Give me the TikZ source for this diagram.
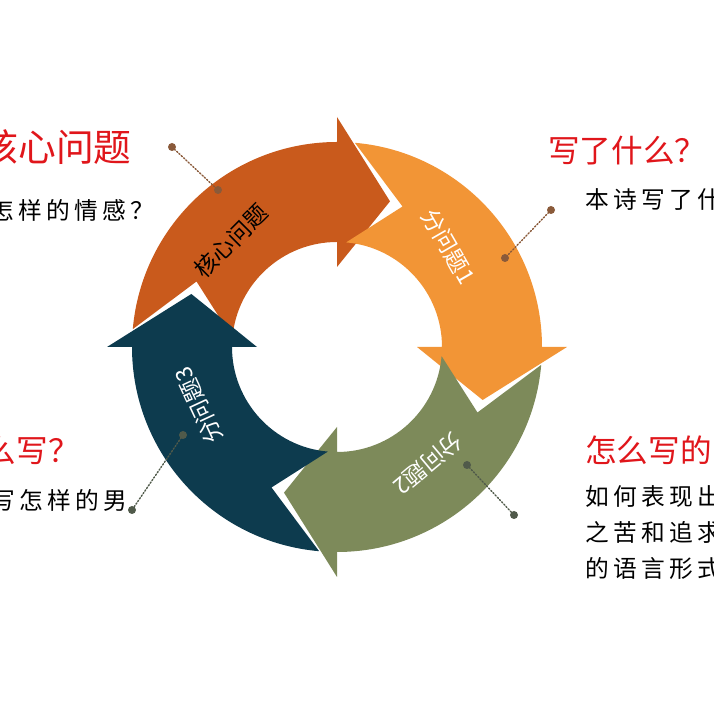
\documentclass[tikz,border=0pt]{standalone}
\usepackage{fontspec}
\setmainfont{Noto Sans CJK SC}
\newfontfamily\spacedfont[LetterSpace=18]{Noto Sans CJK SC}
\definecolor{coreRed}{HTML}{C95A1C}
\definecolor{subOrange}{HTML}{F29536}
\definecolor{subOlive}{HTML}{7D8A5A}
\definecolor{subTeal}{HTML}{0D3B4E}
\definecolor{titleRed}{HTML}{E0161B}
\definecolor{dotBrown}{HTML}{8A5A3A}
\definecolor{dotGrey}{HTML}{505A4A}
% one ring arrow: head base angle, colour
\newcommand\ringarrow[2]{%
  \fill[#2] (#1:230) -- (#1-20:155) -- (#1:80) -- (#1:105)
    arc[start angle=#1, end angle=#1+85, radius=105] -- (#1+65:155) -- (#1+85:205)
    arc[start angle=#1+85, end angle=#1, radius=205] -- cycle;}
\tikzset{
  title/.style={text=titleRed, font=\fontsize{18}{20}\selectfont, inner sep=0pt},
  body/.style={text=black, font=\spacedfont\fontsize{13.5}{20.5}\selectfont, inner sep=0pt, align=left},
  inlabel/.style={font=\fontsize{13}{14}\selectfont, inner sep=0pt},
  pin/.style={densely dotted, thick}
}
\begin{document}
\begin{tikzpicture}[x=0.02cm, y=0.02cm, line cap=round]
  %%%%%%%%%%%%%%%%%%%%%%%%%%%%%%%%%
  \useasboundingbox (0,0) rectangle (714,713);
  \clip (0,0) rectangle (714,713);
  %%%%%%%%%%%%%%%%%%%%%%%%%%%%%%%%%
  \begin{scope}[shift={(337,366)}]
    \ringarrow{90}{coreRed}
    \ringarrow{0}{subOrange}
    \ringarrow{-90}{subOlive}
    \ringarrow{180}{subTeal}
    \node[inlabel, rotate=45] (core) at (135:150) {核心问题};
    \node[inlabel, text=white, rotate=-60] (sub1) at (42:150) {分问题1};
    \node[inlabel, text=white, rotate=-140] (sub2) at (-52:148) {分问题2};
    \node[inlabel, text=white, rotate=115] (sub3) at (-157:150) {分问题3};
  \end{scope}
  %%%%%%%%%%%%%%%%%%%%%%%%%%%%%%%%%
  \node[title, anchor=east, font=\fontsize{21.5}{24}\selectfont] (t0) at (132,566) {核心问题};
  \node[body, anchor=east] (b0) at (155,503) {怎样的情感？};
  \node[title, anchor=west] (t1) at (548,562) {写了什么？};
  \node[body, anchor=west] (b1) at (585,513) {本诗写了什么};
  \node[title, anchor=east] (t3) at (80,263) {怎么写？};
  \node[body, anchor=east] (b3) at (128,213) {写怎样的男};
  \node[title, anchor=west] (t2) at (585,263) {怎么写的};
  \node[body, anchor=north west] (b2) at (585,228) {如何表现出\\之苦和追求\\的语言形式};
  %%%%%%%%%%%%%%%%%%%%%%%%%%%%%%%%%
  \coordinate (p0a) at (172,566); \coordinate (p0b) at (218,523);
  \coordinate (p1a) at (551,503); \coordinate (p1b) at (505,455);
  \coordinate (p2a) at (467,248); \coordinate (p2b) at (514,198);
  \coordinate (p3a) at (183,278); \coordinate (p3b) at (132,203);
  \draw[pin, dotBrown] (p0a) -- (p0b);
  \draw[pin, dotBrown] (p1a) -- (p1b);
  \draw[pin, dotGrey] (p2a) -- (p2b);
  \draw[pin, dotGrey] (p3a) -- (p3b);
  \foreach \p in {p0a,p0b,p1a,p1b}
    \fill[dotBrown] (\p) circle (4);
  \foreach \p in {p2a,p2b,p3a,p3b}
    \fill[dotGrey] (\p) circle (4);
  %%%%%%%%%%%%%%%%%%%%%%%%%%%%%%%%%
\end{tikzpicture}
\end{document}
